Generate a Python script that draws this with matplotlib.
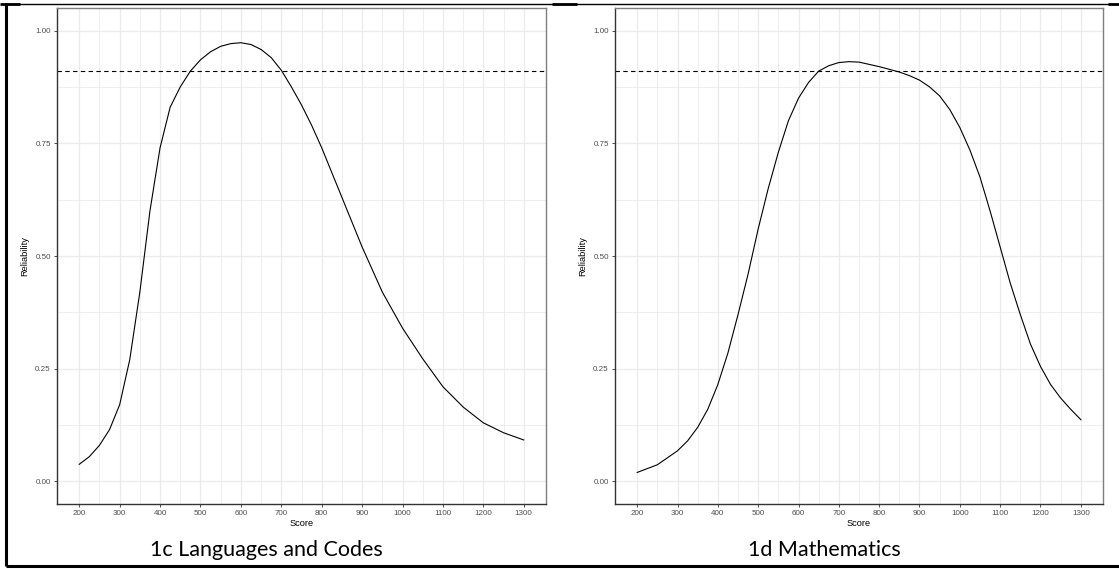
import numpy as np
import matplotlib
matplotlib.use("Agg")
import matplotlib.pyplot as plt
from matplotlib.lines import Line2D

parameters = {'font.family': 'Liberation Sans',
              'axes.labelsize': 6.7,
              'xtick.labelsize': 5.8,
              'ytick.labelsize': 5.8,
              'lines.linewidth': 0.8}
plt.rcParams.update(parameters)

# reliability curves
score_lang = [200, 225, 250, 275, 300, 325, 350, 375, 400, 425, 450, 475, 500, 525,
              550, 575, 600, 625, 650, 675, 700, 725, 750, 775, 800, 825, 850, 875,
              900, 950, 1000, 1050, 1100, 1150, 1200, 1250, 1300]
rel_lang = [0.038, 0.055, 0.08, 0.115, 0.17, 0.27, 0.42, 0.6, 0.74, 0.83, 0.875, 0.91,
            0.935, 0.953, 0.965, 0.971, 0.973, 0.969, 0.958, 0.94, 0.912, 0.875, 0.835,
            0.79, 0.74, 0.685, 0.63, 0.575, 0.52, 0.42, 0.34, 0.272, 0.21, 0.165, 0.13,
            0.108, 0.092]
score_math = [200, 250, 300, 325, 350, 375, 400, 425, 450, 475, 500, 525, 550, 575,
              600, 625, 650, 675, 700, 725, 750, 775, 800, 825, 850, 875, 900, 925,
              950, 975, 1000, 1025, 1050, 1075, 1100, 1125, 1150, 1175, 1200, 1225,
              1250, 1275, 1300]
rel_math = [0.02, 0.037, 0.068, 0.09, 0.12, 0.16, 0.215, 0.285, 0.37, 0.46, 0.56, 0.65,
            0.73, 0.8, 0.85, 0.885, 0.91, 0.922, 0.929, 0.931, 0.93, 0.925, 0.92, 0.914,
            0.908, 0.9, 0.89, 0.875, 0.855, 0.825, 0.785, 0.735, 0.675, 0.6, 0.52, 0.44,
            0.37, 0.305, 0.255, 0.215, 0.185, 0.16, 0.137]
cutoff = 0.91

titles = ["1c Languages and Codes", "1d Mathematics"]
curves = [(score_lang, rel_lang), (score_math, rel_math)]
xticks = list(range(200, 1301, 100))
yticks = [0.00, 0.25, 0.50, 0.75, 1.00]

W, H = 1119, 569
fig = plt.figure(figsize=(W / 100, H / 100), dpi=100)

# axes boxes in pixels: left, top, right, bottom
boxes = [(57, 8, 546, 504), (615, 8, 1103, 504)]
caption_x = [266, 824]

def px(x, y):
    return x / W, 1 - y / H

for i in range(2):
    l, t, r, b = boxes[i]
    ax = fig.add_axes([l / W, 1 - b / H, (r - l) / W, (b - t) / H])
    ax.plot(curves[i][0], curves[i][1], color='black', lw=0.8)
    ax.axhline(cutoff, color='black', lw=0.8, ls=(0, (4, 3)))

    ax.set_xlim(145, 1355)
    ax.set_ylim(-0.05, 1.05)
    ax.set_xticks(xticks)
    ax.set_yticks(yticks)
    ax.set_yticklabels(["%.2f" % v for v in yticks])
    ax.set_xticks(np.arange(250, 1300, 100), minor=True)
    ax.set_yticks([0.125, 0.375, 0.625, 0.875], minor=True)
    ax.grid(which='major', color='#ebebeb', lw=0.9)
    ax.grid(which='minor', color='#ebebeb', lw=0.6)
    ax.set_axisbelow(True)
    ax.tick_params(which='major', length=2.5, width=0.6, color='#333333',
                   labelcolor='#4d4d4d', pad=2)
    ax.tick_params(which='minor', length=0)
    for side in ['top', 'right', 'bottom', 'left']:
        ax.spines[side].set_color('#7f7f7f')
        ax.spines[side].set_linewidth(1.0)
    ax.spines['left'].set_color('#333333')
    ax.spines['bottom'].set_color('#333333')

    ax.set_xlabel("Score", labelpad=1)
    ax.set_ylabel("Reliability", labelpad=4)

    cx, cy = px(caption_x[i], 550)
    fig.text(cx, cy, titles[i], ha='center', va='center', fontsize=15.5,
             family='Lato', color='black')

# table frame around the two panels
frame = [((6, 6), (3, 566), 2.2),
         ((6, 1119), (566, 566), 2.2),
         ((6, 1119), (3.5, 3.5), 1.0),
         ((552, 577), (4, 4), 2.0),
         ((1108, 1119), (4, 4), 2.0),
         ((0, 20), (4, 4), 2.0)]
for xs, ys, lw in frame:
    xf = [x / W for x in xs]
    yf = [1 - y / H for y in ys]
    fig.add_artist(Line2D(xf, yf, color='black', lw=lw, solid_capstyle='butt'))

plt.savefig("out.png", dpi=100)
